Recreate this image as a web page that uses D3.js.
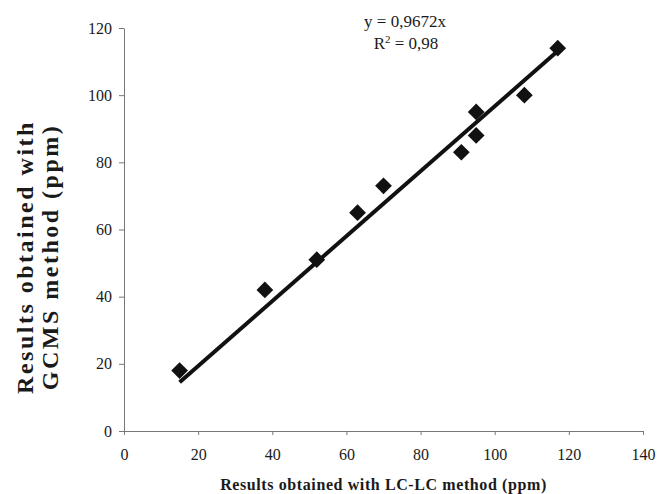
<!DOCTYPE html>
<html>
<head>
<meta charset="utf-8">
<script src="https://cdn.jsdelivr.net/npm/d3@7"></script>
<style>
  body { margin: 0; background: #fff; }
  text { font-family: "Liberation Serif", "Times New Roman", serif; fill: #1a1a1a; }
  .axis path, .axis line { stroke: #777; }
</style>
</head>
<body>
<div class="chart"></div>
<script>
// data
var lcValues = [15, 38, 52, 63, 70, 91, 95, 95, 108, 117];
var gcmsValues = [18, 42, 51, 65, 73, 83, 88, 95, 100, 114];
var slope = 0.9672;
var xTicks = [0, 20, 40, 60, 80, 100, 120, 140];
var yTicks = [0, 20, 40, 60, 80, 100, 120];

var svgWidth = 658;
var svgHeight = 494;
var margin = { top: 28, right: 15, bottom: 63, left: 124 };
var width = svgWidth - margin.left - margin.right;
var height = svgHeight - margin.top - margin.bottom;

var svg = d3.select(".chart")
    .append("svg")
    .attr("width", svgWidth)
    .attr("height", svgHeight);

var chartGroup = svg.append("g")
    .attr("transform", `translate(${margin.left}, ${margin.top})`);

var xScale = d3.scaleLinear().domain([0, 140]).range([0, width]);
var yScale = d3.scaleLinear().domain([0, 120]).range([height, 0]);

var xAxis = d3.axisBottom(xScale).tickValues(xTicks).tickSize(4).tickPadding(14).tickSizeOuter(0);
var yAxis = d3.axisLeft(yScale).tickValues(yTicks).tickSize(5).tickPadding(7).tickSizeOuter(0);

chartGroup.append("g")
    .attr("class", "axis")
    .attr("transform", `translate(0, ${height})`)
    .call(xAxis)
    .selectAll("text")
    .style("font-size", "16px");

chartGroup.append("g")
    .attr("class", "axis")
    .call(yAxis)
    .selectAll("text")
    .style("font-size", "16px");

chartGroup.selectAll(".axis text").attr("fill", "#1a1a1a");

// trend line y = 0.9672x over data range
var xMin = d3.min(lcValues), xMax = d3.max(lcValues);
chartGroup.append("line")
    .attr("x1", xScale(xMin))
    .attr("y1", yScale(slope * xMin))
    .attr("x2", xScale(xMax))
    .attr("y2", yScale(slope * xMax))
    .attr("stroke", "#111")
    .attr("stroke-width", 4);

var diamond = d3.symbol().type(d3.symbolSquare).size(140);
chartGroup.selectAll(".pt")
    .data(lcValues)
    .enter()
    .append("path")
    .attr("class", "pt")
    .attr("d", diamond)
    .attr("transform", (d, i) => `translate(${xScale(d)}, ${yScale(gcmsValues[i])}) rotate(45)`)
    .attr("fill", "#111");

// equation
svg.append("text")
    .attr("x", 405)
    .attr("y", 27)
    .attr("text-anchor", "middle")
    .style("font-size", "17px")
    .text("y = 0,9672x");

var r2 = svg.append("text")
    .attr("x", 406)
    .attr("y", 49)
    .attr("text-anchor", "middle")
    .style("font-size", "17px");
r2.append("tspan").text("R");
r2.append("tspan").attr("dy", -6).style("font-size", "11px").text("2");
r2.append("tspan").attr("dy", 6).text(" = 0,98");

// axis titles
svg.append("text")
    .attr("x", margin.left + width / 2)
    .attr("y", 490)
    .attr("text-anchor", "middle")
    .style("font-size", "16px")
    .style("letter-spacing", "0.6px")
    .style("font-weight", "bold")
    .text("Results obtained with LC-LC method (ppm)");

var yTitle = svg.append("text")
    .attr("transform", "translate(0, 257) rotate(-90)")
    .attr("text-anchor", "middle")
    .style("font-size", "24px")
    .style("letter-spacing", "2.5px")
    .style("font-weight", "bold");
yTitle.append("tspan").attr("x", 0).attr("y", 33).text("Results obtained with");
yTitle.append("tspan").attr("x", 0).attr("y", 58).text("GCMS method (ppm)");
</script>
</body>
</html>
